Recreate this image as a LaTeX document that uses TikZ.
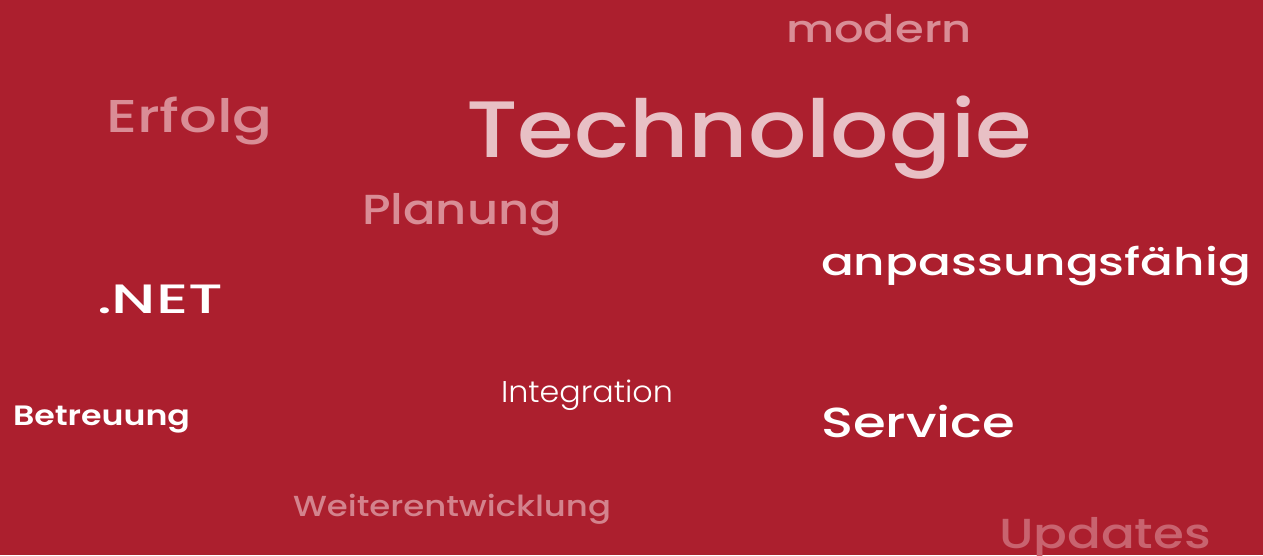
\documentclass[tikz,border=0pt]{standalone}
\usepackage{fontspec}
\usepackage{graphicx}
\setmainfont{Poppins}
\newfontfamily\fmed{Poppins Medium}
\newfontfamily\fthin{Poppins Light}
\newfontfamily\fsemi{Poppins SemiBold}
\definecolor{bg}{HTML}{AC1F2E}
\definecolor{pale}{HTML}{E8C0C5}
\definecolor{rose}{HTML}{D98D96}
\definecolor{rosemid}{HTML}{D3838D}
\definecolor{rosedark}{HTML}{C8636F}
\tikzset{word/.style={anchor=base west, inner sep=0pt, outer sep=0pt}}
% #1 name, #2 x, #3 baseline y, #4 width, #5 font size, #6 colour, #7 font, #8 text
\newcommand\cloudword[8]{%
  \node[word, text=#6] (#1) at (#2pt,-#3pt)
    {\resizebox{#4pt}{\height}{\fontsize{#5pt}{#5pt}#7\selectfont #8}};}
\begin{document}
\begin{tikzpicture}
\fill[bg] (0pt,0pt) rectangle (1263pt,-555pt);
\useasboundingbox (0pt,0pt) rectangle (1263pt,-555pt);
\cloudword{modern}{786}{42}{186}{38}{rose}{\fmed}{modern}
\cloudword{tech}{466}{157}{566}{80}{pale}{\fmed}{Technologie}
\cloudword{erfolg}{106}{132}{167}{46}{rose}{\fmed}{Erfolg}
\cloudword{planung}{362}{224}{200}{42}{rose}{\fmed}{Planung}
\cloudword{anpass}{821}{275}{430}{38}{white}{\fmed}{anpassungsfähig}
\cloudword{net}{97}{313}{126}{41}{white}{\fmed}{.NET}
\cloudword{integ}{501}{402}{172}{30}{white}{\fthin}{Integration}
\cloudword{betr}{13}{425}{177}{28}{white}{\fsemi}{Betreuung}
\cloudword{service}{821}{437}{194}{42}{white}{\fmed}{Service}
\cloudword{weiter}{293}{516}{318}{29}{rosemid}{\fmed}{Weiterentwicklung}
\cloudword{updates}{999}{548}{212}{42}{rosedark}{\fmed}{Updates}
\end{tikzpicture}
\end{document}
